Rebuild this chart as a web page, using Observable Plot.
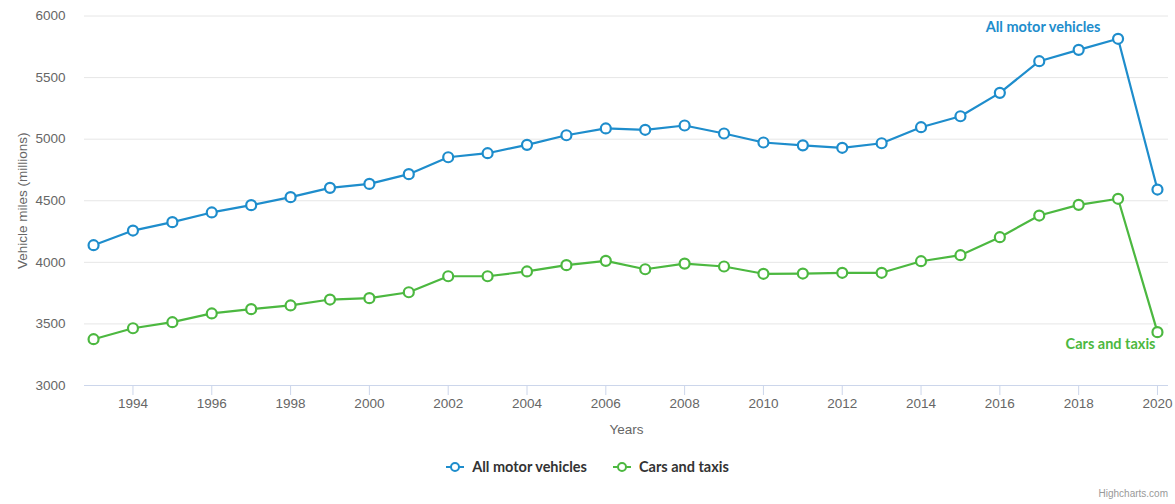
<!DOCTYPE html>
<html>
<head>
<meta charset="utf-8">
<script src="https://cdn.jsdelivr.net/npm/d3@7"></script>
<script src="https://cdn.jsdelivr.net/npm/@observablehq/plot@0.6"></script>
<style>
  html, body { margin: 0; padding: 0; background: #fff; }
  #wrap { position: relative; width: 1175px; height: 504px; overflow: hidden; font-family: "Liberation Sans", Arial, sans-serif; }
  #legend { position: absolute; top: 458px; left: 0; width: 1175px; display: flex; justify-content: center; gap: 26px; box-sizing: border-box; }
  .item { display: flex; align-items: center; font-family: Lato, sans-serif; font-weight: 700; font-size: 14.5px; color: #333; }
  .item svg { margin-right: 8px; }
  #credit { position: absolute; right: 7px; top: 488px; font-size: 10px; color: #999; }
</style>
</head>
<body>
<div id="wrap">
  <div id="chart"></div>
  <div id="legend"></div>
  <div id="credit">Highcharts.com</div>
</div>
<script>
const years = [1993,1994,1995,1996,1997,1998,1999,2000,2001,2002,2003,2004,2005,2006,2007,2008,2009,2010,2011,2012,2013,2014,2015,2016,2017,2018,2019,2020];
const allMotorVehicles = [4139,4258,4326,4405,4464,4529,4605,4637,4716,4853,4886,4954,5032,5087,5076,5111,5046,4973,4950,4930,4967,5097,5186,5376,5633,5725,5815,4591];
const carsAndTaxis = [3376,3465,3514,3585,3620,3650,3698,3709,3757,3887,3887,3926,3977,4012,3944,3990,3966,3907,3909,3915,3915,4009,4058,4204,4380,4467,4516,3433];
const seriesNames = ["All motor vehicles", "Cars and taxis"];
const seriesColors = ["#1e8dcc", "#4cb840"];
const yTicks = [3000,3500,4000,4500,5000,5500,6000];
const xTicks = [1994,1996,1998,2000,2002,2004,2006,2008,2010,2012,2014,2016,2018,2020];

const rows = [];
years.forEach((yr, i) => {
  rows.push({year: yr, value: allMotorVehicles[i], series: seriesNames[0]});
  rows.push({year: yr, value: carsAndTaxis[i], series: seriesNames[1]});
});
const color = {domain: seriesNames, range: seriesColors};

const chart = Plot.plot({
  width: 1175,
  height: 440,
  marginTop: 15.5,
  marginBottom: 55,
  marginLeft: 84,
  marginRight: 7,
  style: {fontFamily: '"Liberation Sans", Arial, sans-serif', fontSize: "13.5px", background: "transparent"},
  x: {domain: [1992.77, 2020.28]},
  y: {domain: [3000, 6000]},
  color,
  marks: [
    Plot.gridY(yTicks.filter(d => d > 3000), {stroke: "#e6e6e6", strokeOpacity: 1}),
    Plot.ruleY([3000], {stroke: "#ccd6eb"}),
    Plot.axisY(yTicks, {tickSize: 0, tickPadding: 19, fill: "#666", fontSize: "13.5px", tickFormat: d => String(d), label: "Vehicle miles (millions)", labelAnchor: "center", labelArrow: "none", labelOffset: 67}),
    Plot.axisX(xTicks, {tickSize: 10, tickPadding: 3, stroke: "#ccd6eb", fill: "#666", tickFormat: d => String(d), fontSize: "13.5px", label: "Years", labelAnchor: "center", labelArrow: "none", labelOffset: 48}),
    Plot.line(rows, {x: "year", y: "value", stroke: "series", strokeWidth: 2.2, z: "series"}),
    Plot.dot(rows, {x: "year", y: "value", stroke: "series", fill: "white", r: 5, strokeWidth: 2.2}),
    Plot.text(rows.filter(d => d.year === 2019 && d.series === seriesNames[0]), {x: "year", y: "value", text: "series", fill: "series", dx: -75, dy: -11, fontFamily: "Lato, sans-serif", fontWeight: 700, fontSize: "14.5px"}),
    Plot.text(rows.filter(d => d.year === 2020 && d.series === seriesNames[1]), {x: "year", y: "value", text: "series", fill: "series", textAnchor: "end", dx: -2, dy: 12, fontFamily: "Lato, sans-serif", fontWeight: 700, fontSize: "14.5px"})
  ]
});
document.getElementById("chart").appendChild(chart);

const legend = document.getElementById("legend");
seriesNames.forEach((name, i) => {
  const item = document.createElement("div");
  item.className = "item";
  item.innerHTML = `<svg width="18" height="12"><line x1="0" y1="6" x2="18" y2="6" stroke="${seriesColors[i]}" stroke-width="2"/><circle cx="9" cy="6" r="4" fill="white" stroke="${seriesColors[i]}" stroke-width="2"/></svg>${name}`;
  legend.appendChild(item);
});
</script>
</body>
</html>
